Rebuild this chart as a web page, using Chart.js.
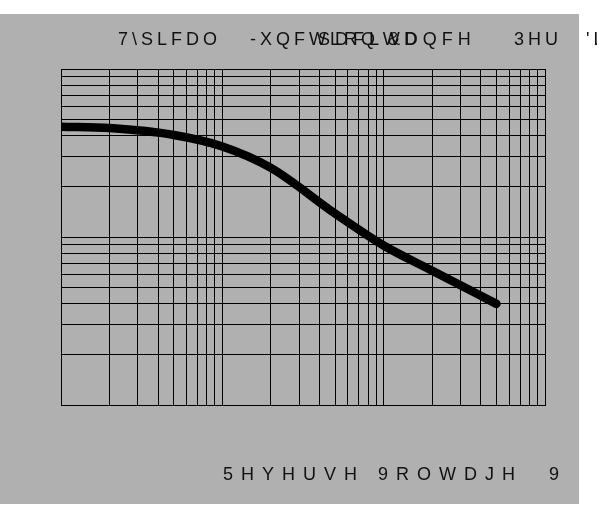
<!DOCTYPE html>
<html>
<head>
<meta charset="utf-8">
<script src="https://cdn.jsdelivr.net/npm/chart.js@4.4.0/dist/chart.umd.min.js"></script>
<style>
  html, body { margin: 0; padding: 0; background: #ffffff; }
  canvas { display: block; }
</style>
</head>
<body>
<canvas id="chart" width="597" height="517"></canvas>
<script>
// Reverse voltage (V) and junction capacitance
const voltage = [0.1, 0.2, 0.5, 1, 2, 5, 10, 20, 50];
const capacitance = [45.3, 44.5, 40.5, 34.6, 25.8, 13.8, 8.9, 6.3, 4.0];

// grid positions on both log axes
const xTicks = [0.1, 0.2, 0.3, 0.4, 0.5, 0.6, 0.7, 0.8, 0.9, 1, 2, 3, 4, 5, 6, 7, 8, 9, 10, 20, 30, 40, 50, 60, 70, 80, 90, 100];
const yTicks = [1, 2, 3, 4, 5, 6, 7, 8, 9, 10, 20, 30, 40, 50, 60, 70, 80, 90, 100];

// title text exactly as it shows up in the picture (shifted glyphs)
const titleWords = ["7\\SLFDO", "-XQFWLRQ &D", "SDFLWDQFH", "3HU", "'LRGH"];
const xAxisTitle = "5HYHUVH 9ROWDJH  9";

const GRAY = "#b0b0b0";

const backdrop = {
    id: "backdrop",
    beforeDraw(chart) {
        const ctx = chart.ctx;
        ctx.save();
        ctx.fillStyle = GRAY;
        ctx.fillRect(0, 14, 579, 490);
        ctx.restore();
    },
};

const labels = {
    id: "labels",
    afterDraw(chart) {
        const ctx = chart.ctx;
        ctx.save();
        ctx.fillStyle = "#111111";
        ctx.font = "18px 'Liberation Sans', Arial, sans-serif";
        ctx.textBaseline = "alphabetic";

        // title words, placed the way the source laid them out
        const titleX = [118, 250, 318, 514, 586];
        const titleGap = ["4px", "4px", "5px", "4px", "4px"];
        titleWords.forEach((w, i) => {
            ctx.letterSpacing = titleGap[i];
            ctx.fillText(w, titleX[i], 45);
        });

        ctx.letterSpacing = "8px";
        ctx.fillText(xAxisTitle, 223, 480);
        ctx.restore();
    },
};

const ctx = document.getElementById("chart").getContext("2d");

new Chart(ctx, {
    type: "line",
    data: {
        datasets: [
            {
                data: voltage.map((v, i) => ({ x: v, y: capacitance[i] })),
                borderColor: "#000000",
                borderWidth: 8.5,
                borderCapStyle: "round",
                borderJoinStyle: "round",
                cubicInterpolationMode: "monotone",
                pointRadius: 0,
                fill: false,
                clip: 0,
            },
        ],
    },
    options: {
        responsive: false,
        devicePixelRatio: 1,
        animation: false,
        layout: {
            padding: { left: 61, right: 52, top: 69, bottom: 112 },
        },
        plugins: {
            legend: { display: false },
            tooltip: { enabled: false },
            title: { display: false },
        },
        scales: {
            x: {
                type: "logarithmic",
                min: 0.1,
                max: 100,
                afterBuildTicks: (scale) => {
                    scale.ticks = xTicks.map((v) => ({ value: v }));
                },
                ticks: { display: false },
                grid: { color: "#000000", lineWidth: 1, drawTicks: false },
                border: { display: true, color: "#000000", width: 1 },
            },
            y: {
                type: "logarithmic",
                min: 1,
                max: 100,
                afterBuildTicks: (scale) => {
                    scale.ticks = yTicks.map((v) => ({ value: v }));
                },
                ticks: { display: false },
                grid: { color: "#000000", lineWidth: 1, drawTicks: false },
                border: { display: true, color: "#000000", width: 1 },
            },
        },
    },
    plugins: [backdrop, labels],
});
</script>
</body>
</html>
